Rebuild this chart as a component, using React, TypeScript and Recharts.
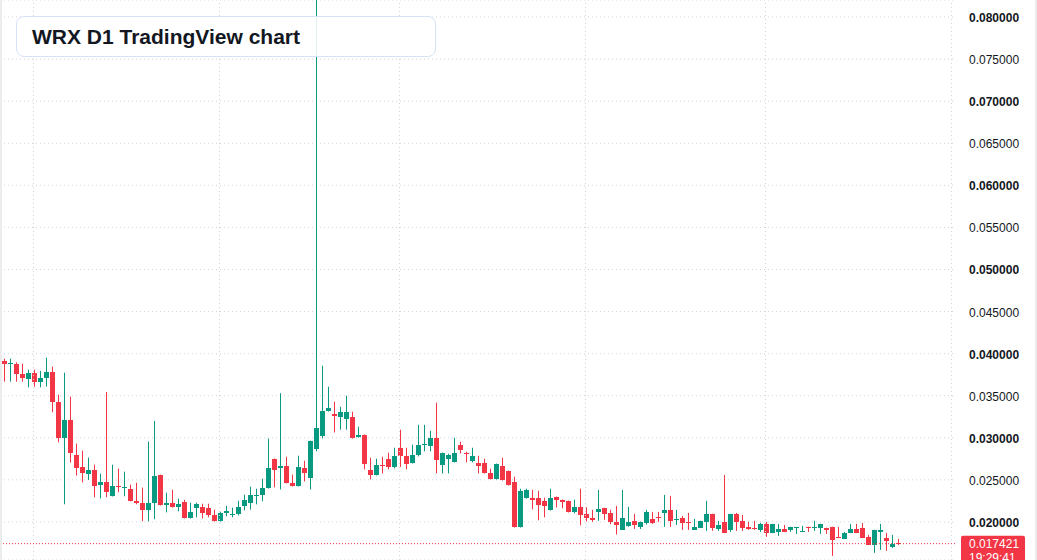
import React from "react";
import { ComposedChart, Bar, XAxis, YAxis, CartesianGrid, ReferenceLine } from "recharts";

const opens = [
  0.03917, 0.03877, 0.03881, 0.03762, 0.03703, 0.03774, 0.0366, 0.03707, 0.03786, 0.03422,
  0.02994, 0.03216, 0.028, 0.0265, 0.02567, 0.02622, 0.02436, 0.0248, 0.02305, 0.02432,
  0.02404, 0.02396, 0.02254, 0.02222, 0.02139, 0.02222, 0.02561, 0.02197, 0.02229, 0.02173,
  0.02241, 0.02043, 0.02162, 0.02181, 0.0217, 0.02086, 0.02007, 0.02102, 0.02078, 0.0209,
  0.02185, 0.02221, 0.02312, 0.02316, 0.02399, 0.02752, 0.02637, 0.02669, 0.02467, 0.02423,
  0.02645, 0.02518, 0.02862, 0.03017, 0.03314, 0.03286, 0.03243, 0.03219, 0.0325, 0.03005,
  0.03037, 0.02621, 0.02554, 0.0268, 0.02752, 0.02649, 0.02882, 0.02787, 0.02696, 0.02791,
  0.0291, 0.02898, 0.03001, 0.02672, 0.02752, 0.02708, 0.02918, 0.02815, 0.0272, 0.02704,
  0.02704, 0.02585, 0.02506, 0.02668, 0.02609, 0.02478, 0.01936, 0.0228, 0.02288, 0.02288,
  0.02253, 0.02138, 0.023, 0.02265, 0.02253, 0.02114, 0.02173, 0.0209, 0.02049, 0.0212,
  0.02167, 0.02108, 0.02001, 0.01906, 0.01953, 0.02013, 0.01942, 0.01993, 0.02037, 0.02061,
  0.02112, 0.02144, 0.02025, 0.02049, 0.02001, 0.01906, 0.0193, 0.02001, 0.02096, 0.01918,
  0.02001, 0.01906, 0.02096, 0.02013, 0.01942, 0.0193, 0.01906, 0.01977, 0.0187, 0.01882,
  0.01918, 0.01906, 0.0193, 0.01882, 0.01942, 0.0193, 0.0193, 0.0193, 0.01942, 0.01823,
  0.01799, 0.0187, 0.01918, 0.0193, 0.01823, 0.01728, 0.01882, 0.01811, 0.01704, 0.01752,
];
const highs = [
  0.03941, 0.03941, 0.03897, 0.03881, 0.0381, 0.0381, 0.03794, 0.03952, 0.03846, 0.03513,
  0.03774, 0.03489, 0.02931, 0.02848, 0.02765, 0.02681, 0.02574, 0.03545, 0.02681, 0.02634,
  0.02598, 0.02444, 0.02467, 0.02408, 0.02955, 0.032, 0.02563, 0.02348, 0.02383, 0.02276,
  0.02264, 0.02229, 0.02229, 0.02217, 0.02217, 0.02146, 0.02122, 0.02193, 0.0217, 0.02252,
  0.02324, 0.02419, 0.02395, 0.02514, 0.02989, 0.02754, 0.0353, 0.02775, 0.02561, 0.02787,
  0.02728, 0.02967, 0.095, 0.03856, 0.03607, 0.03429, 0.03369, 0.035, 0.0331, 0.03132,
  0.03039, 0.02763, 0.02752, 0.02775, 0.02823, 0.02882, 0.03096, 0.02882, 0.02918, 0.03155,
  0.03155, 0.03084, 0.03417, 0.02825, 0.02811, 0.03, 0.02954, 0.02835, 0.02882, 0.02787,
  0.02752, 0.02633, 0.02694, 0.02763, 0.02611, 0.02538, 0.02395, 0.02395, 0.02383, 0.02371,
  0.02288, 0.02395, 0.02302, 0.02267, 0.02255, 0.02265, 0.02395, 0.02173, 0.02144, 0.02381,
  0.02169, 0.02144, 0.02191, 0.02381, 0.02179, 0.02096, 0.02003, 0.02144, 0.0212, 0.0212,
  0.02322, 0.0231, 0.02144, 0.02072, 0.02108, 0.02037, 0.02015, 0.02251, 0.02098, 0.02013,
  0.02559, 0.02098, 0.02108, 0.02084, 0.02001, 0.02013, 0.01989, 0.02001, 0.01977, 0.01977,
  0.01965, 0.01944, 0.01942, 0.01954, 0.01944, 0.02013, 0.01979, 0.01932, 0.01944, 0.01942,
  0.01882, 0.01977, 0.01977, 0.01989, 0.01847, 0.01908, 0.01977, 0.0187, 0.01847, 0.01799,
];
const lows = [
  0.03667, 0.03667, 0.03667, 0.03667, 0.036, 0.03608, 0.036, 0.03608, 0.03303, 0.02947,
  0.0221, 0.02705, 0.02551, 0.02471, 0.02499, 0.02293, 0.02281, 0.02293, 0.02303, 0.02353,
  0.02305, 0.02244, 0.0221, 0.02008, 0.02008, 0.02032, 0.02195, 0.02114, 0.0217, 0.02126,
  0.02041, 0.02041, 0.02055, 0.02043, 0.02055, 0.02005, 0.02005, 0.02067, 0.02055, 0.02078,
  0.02138, 0.02146, 0.02209, 0.02245, 0.02397, 0.02411, 0.02387, 0.02457, 0.02421, 0.02421,
  0.02482, 0.02387, 0.0284, 0.02993, 0.03312, 0.03064, 0.03096, 0.03096, 0.02991, 0.03003,
  0.02625, 0.02506, 0.02552, 0.02577, 0.02625, 0.02637, 0.02653, 0.02625, 0.02694, 0.02779,
  0.02839, 0.02839, 0.02577, 0.02577, 0.02577, 0.02706, 0.02815, 0.02708, 0.02708, 0.02577,
  0.02575, 0.02504, 0.02504, 0.02492, 0.02433, 0.01934, 0.01934, 0.02278, 0.0215, 0.02019,
  0.02055, 0.02136, 0.02173, 0.02162, 0.02112, 0.02102, 0.0196, 0.02005, 0.02001, 0.02013,
  0.02025, 0.01973, 0.01851, 0.01904, 0.01942, 0.01918, 0.01916, 0.01969, 0.01977, 0.02001,
  0.01942, 0.01942, 0.01965, 0.01906, 0.01906, 0.01904, 0.01928, 0.01894, 0.01894, 0.01894,
  0.01868, 0.01882, 0.01894, 0.01894, 0.01906, 0.01906, 0.01882, 0.01823, 0.01868, 0.01835,
  0.0188, 0.01882, 0.01858, 0.0188, 0.01882, 0.01894, 0.01858, 0.01858, 0.01597, 0.01809,
  0.01797, 0.01868, 0.01868, 0.01809, 0.01726, 0.01633, 0.01668, 0.01657, 0.01692, 0.01728,
];
const closes = [
  0.03873, 0.03885, 0.03754, 0.03715, 0.03774, 0.0366, 0.03715, 0.03786, 0.03422, 0.02994,
  0.03216, 0.02816, 0.02638, 0.02578, 0.02622, 0.02424, 0.0248, 0.02353, 0.02432, 0.0242,
  0.02416, 0.02246, 0.02222, 0.02139, 0.0223, 0.02551, 0.02197, 0.02229, 0.02181, 0.02213,
  0.02043, 0.02122, 0.02213, 0.02102, 0.02078, 0.02007, 0.0211, 0.02134, 0.02098, 0.02181,
  0.02264, 0.02324, 0.02324, 0.02407, 0.02645, 0.02613, 0.02669, 0.02459, 0.02423, 0.02657,
  0.02585, 0.02965, 0.0312, 0.03322, 0.03357, 0.03254, 0.0331, 0.0331, 0.02993, 0.03037,
  0.02684, 0.02554, 0.0268, 0.02668, 0.02649, 0.02787, 0.02779, 0.02684, 0.02799, 0.02918,
  0.02922, 0.03001, 0.02732, 0.02823, 0.02799, 0.02823, 0.02851, 0.02803, 0.02787, 0.0266,
  0.02577, 0.02506, 0.02692, 0.02494, 0.02435, 0.01936, 0.02371, 0.02383, 0.02257, 0.02197,
  0.02185, 0.02288, 0.02257, 0.02233, 0.02114, 0.02181, 0.02078, 0.02043, 0.02025, 0.02156,
  0.021, 0.02001, 0.01969, 0.02049, 0.02001, 0.01969, 0.02001, 0.0212, 0.01989, 0.02049,
  0.02144, 0.02013, 0.02037, 0.01993, 0.01993, 0.01942, 0.02013, 0.02096, 0.0193, 0.01965,
  0.0187, 0.02096, 0.02001, 0.0193, 0.01918, 0.01918, 0.01977, 0.0187, 0.01977, 0.01918,
  0.01882, 0.01942, 0.01942, 0.01894, 0.0193, 0.01942, 0.01977, 0.01906, 0.01787, 0.01811,
  0.0187, 0.01918, 0.0187, 0.01811, 0.01728, 0.01906, 0.01906, 0.01775, 0.0174, 0.017421,
];

// slots after the last session (empty, future days on the time axis)
const futureSlots = 9;
// first day of each month on the time axis (slot index)
const monthStarts = [5, 36, 66, 97, 127, 158];
const yTicks = [0.02, 0.025, 0.03, 0.035, 0.04, 0.045, 0.05, 0.055, 0.06, 0.065, 0.07, 0.075, 0.08];
const yDomain: [number, number] = [0.01548, 0.08202];
const lastPrice = 0.017421;
const lastTime = "19:29:41";
const title = "WRX D1 TradingView chart";

const UP = "#089981";
const DOWN = "#F23645";
const GRID = "#d1d4dc";
const TEXT = "#131722";
const FONT = "'Liberation Sans', Arial, sans-serif";

const rows = Array.from({ length: opens.length + futureSlots }, (_, i) =>
  i < opens.length
    ? { i, o: opens[i], h: highs[i], l: lows[i], c: closes[i] }
    : { i, o: null, h: null, l: null, c: null }
);

const Candle = (props: any) => {
  const { x, width, payload } = props;
  let { y, height } = props;
  if (!payload || payload.o == null || y == null) return null;
  if (height < 0) {
    y = y + height;
    height = -height;
  }
  const { o, h, l, c } = payload;
  const k = height / (h - l);
  const py = (p: number) => y + (h - p) * k;
  const color = c >= o ? UP : DOWN;
  const cx = x + width / 2;
  const bodyX = Math.round(cx - 2.5);
  const top = Math.round(py(Math.max(o, c)));
  const bot = Math.round(py(Math.min(o, c)));
  const bh = Math.max(1, bot - top);
  return (
    <g>
      <rect x={bodyX + 2} y={y} width={1} height={height} fill={color} />
      <rect x={bodyX} y={top} width={5} height={bh} fill={color} />
    </g>
  );
};

const PriceTick = (props: any) => {
  const { x, y, payload } = props;
  const v = payload.value as number;
  const bold = Math.abs(Math.round(v * 100) - v * 100) < 1e-6;
  return (
    <text
      x={x}
      y={y}
      dy={5}
      textAnchor="start"
      fontSize={12}
      fontWeight={bold ? 700 : 400}
      fill={TEXT}
      fontFamily={FONT}
    >
      {v.toFixed(6)}
    </text>
  );
};

const PriceTag = (props: any) => {
  const vb = props.viewBox || {};
  const x0 = vb.x + vb.width + 6;
  const y0 = vb.y;
  return (
    <g>
      <rect x={x0} y={y0 - 8} width={64} height={34} rx={2} fill={DOWN} />
      <text x={x0 + 8} y={y0 + 4} fontSize={12} fill="#ffffff" fontFamily={FONT}>
        {lastPrice.toFixed(6)}
      </text>
      <text x={x0 + 8} y={y0 + 18} fontSize={12} fill="#ffffff" fontFamily={FONT}>
        {lastTime}
      </text>
    </g>
  );
};

export default function App() {
  return (
    <div
      style={{
        position: "absolute",
        left: 0,
        top: 0,
        width: 1037,
        height: 560,
        overflow: "hidden",
        background: "#ffffff",
      }}
    >
      <ComposedChart
        width={1037}
        height={560}
        data={rows}
        margin={{ top: 0, right: 0, bottom: 0, left: 0 }}
      >
        <CartesianGrid vertical={false} stroke={GRID} strokeDasharray="1 3" />
        <XAxis dataKey="i" type="category" hide padding={{ left: 0.5, right: 0.5 }} />
        <YAxis
          orientation="right"
          width={82}
          domain={yDomain}
          ticks={yTicks}
          interval={0}
          allowDataOverflow
          axisLine={false}
          tickLine={false}
          tickSize={0}
          tickMargin={14}
          tick={<PriceTick />}
        />
        {monthStarts.map((m) => (
          <ReferenceLine key={m} x={m} stroke={GRID} strokeDasharray="1 3" ifOverflow="visible" />
        ))}
        <Bar
          dataKey={(d: any) => (d.o == null ? null : [d.l, d.h])}
          shape={Candle}
          barSize={5}
          isAnimationActive={false}
        />
        <ReferenceLine y={lastPrice} stroke={DOWN} strokeDasharray="1 2" label={PriceTag} />
      </ComposedChart>
      <div
        style={{
          position: "absolute",
          left: 16,
          top: 16,
          width: 420,
          height: 41,
          boxSizing: "border-box",
          border: "1.5px solid #d6e3f7",
          borderRadius: 8,
          background: "rgba(255,255,255,0.88)",
          paddingLeft: 15,
          display: "flex",
          alignItems: "center",
          fontFamily: FONT,
          fontWeight: 700,
          fontSize: 21,
          color: TEXT,
        }}
      >
        {title}
      </div>
      <div style={{ position: "absolute", left: 0, top: 0, width: 2, height: 560, background: "#ececec" }} />
      <div style={{ position: "absolute", right: 0, top: 0, width: 2, height: 560, background: "#ececec" }} />
    </div>
  );
}
